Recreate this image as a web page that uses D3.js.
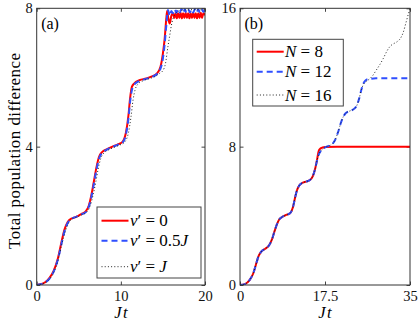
<!DOCTYPE html>
<html>
<head>
<meta charset="utf-8">
<script src="https://cdn.jsdelivr.net/npm/d3@7"></script>
<style>
  body { margin: 0; background: #fff; }
</style>
</head>
<body>
<div id="chart"></div>
<script>
'use strict';

// panel (a): v' series, time Jt
var tA_v0 = [0, 0.5, 1, 1.5, 2, 2.5, 3, 3.3, 3.7, 4.2, 4.7, 5.3, 5.8, 6.2, 6.5, 6.8, 7.1, 7.4, 7.8, 8.3, 9, 9.6, 10.2, 10.6, 10.9, 11.1, 11.3, 11.6, 12.2, 13, 13.7, 14.3, 14.7, 15.0, 15.2, 15.4, 15.5, 15.65, 15.8, 16.0, 16.2,
  16.35, 16.5, 16.65, 16.8, 16.95, 17.1, 17.25, 17.4, 17.55, 17.7, 17.85, 18.0, 18.15, 18.3, 18.45, 18.6, 18.75, 18.9, 19.05, 19.2, 19.35, 19.5, 19.65, 19.8, 20];
var yA_v0 = [0, 0.02, 0.08, 0.2, 0.4, 0.75, 1.3, 1.6, 1.83, 1.93, 1.97, 2.05, 2.12, 2.3, 2.6, 3.0, 3.4, 3.7, 3.85, 3.92, 4.0, 4.06, 4.14, 4.4, 4.9, 5.4, 5.72, 5.83, 5.92, 5.97, 6.03, 6.12, 6.3, 6.7, 7.1, 7.7, 7.92, 7.7, 7.56, 7.78, 7.86,
  7.72, 7.86, 7.71, 7.86, 7.72, 7.87, 7.71, 7.86, 7.72, 7.87, 7.72, 7.86, 7.71, 7.86, 7.72, 7.87, 7.72, 7.86, 7.71, 7.86, 7.72, 7.87, 7.72, 7.86, 7.8];

var tA_v05 = [0, 0.5, 1, 1.5, 2, 2.5, 3, 3.3, 3.7, 4.2, 4.7, 5.3, 5.8, 6.2, 6.5, 6.8, 7.1, 7.4, 7.8, 8.3, 9, 9.6, 10.2, 10.6, 10.9, 11.1, 11.3, 11.6, 12.2, 13, 13.7, 14.3, 14.7, 15.0, 15.2, 15.4, 15.6, 15.8, 16.0,
  16.2, 16.4, 16.6, 16.8, 17.0, 17.2, 17.4, 17.6, 17.8, 18.0, 18.2, 18.4, 18.6, 18.8, 19.0, 19.2, 19.4, 19.6, 19.8, 20];
var yA_v05 = [0, 0.02, 0.07, 0.18, 0.38, 0.72, 1.25, 1.55, 1.8, 1.92, 1.97, 2.04, 2.1, 2.27, 2.55, 2.93, 3.33, 3.65, 3.83, 3.91, 3.99, 4.05, 4.12, 4.35, 4.8, 5.3, 5.62, 5.8, 5.9, 5.96, 6.02, 6.1, 6.25, 6.55, 6.95, 7.5, 7.95, 7.78, 7.92,
  7.86, 7.97, 7.87, 7.97, 7.88, 7.98, 7.87, 7.97, 7.88, 7.98, 7.88, 7.97, 7.88, 7.98, 7.88, 7.97, 7.88, 7.98, 7.9, 7.95];

var tA_v1 = [0, 0.5, 1, 1.5, 2, 2.5, 3, 3.4, 3.8, 4.3, 4.8, 5.4, 5.9, 6.3, 6.7, 7.0, 7.3, 7.6, 8.0, 8.5, 9.2, 9.8, 10.4, 10.9, 11.2, 11.45, 11.7, 12.0, 12.6, 13.3, 14.0, 14.6, 15.0, 15.3, 15.6, 15.8, 16.0, 16.2, 16.5, 16.9, 17.5, 18.5, 20];
var yA_v1 = [0, 0.02, 0.06, 0.16, 0.35, 0.68, 1.2, 1.55, 1.8, 1.92, 1.97, 2.03, 2.1, 2.25, 2.6, 2.95, 3.35, 3.65, 3.82, 3.9, 3.98, 4.04, 4.12, 4.4, 4.85, 5.35, 5.65, 5.8, 5.9, 5.96, 6.02, 6.12, 6.2, 6.4, 6.9, 7.2, 7.5, 7.7, 7.85, 7.92, 7.95, 7.96, 7.96];

// panel (b): N series
var tB_8 = [0, 1, 2, 2.7, 3.3, 3.8, 4.3, 5.2, 6.0, 6.6, 7.1, 7.6, 8.1, 8.6, 9.5, 10.3, 10.9, 11.3, 11.7, 12.2, 12.7, 13.6, 14.4, 15.0, 15.5, 15.9, 16.2, 16.5, 17, 17.5, 20, 25, 30, 35];
var yB_8 = [0, 0.05, 0.3, 0.65, 1.2, 1.65, 1.9, 2.1, 2.3, 2.65, 3.1, 3.5, 3.8, 3.92, 4.05, 4.15, 4.5, 5.0, 5.45, 5.75, 5.88, 5.98, 6.07, 6.3, 6.75, 7.3, 7.75, 7.88, 7.95, 7.98, 8, 8, 8, 8];

var tB_12 = [0, 1, 2, 2.7, 3.3, 3.8, 4.3, 5.2, 6.0, 6.6, 7.1, 7.6, 8.1, 8.6, 9.5, 10.3, 10.9, 11.3, 11.7, 12.2, 12.7, 13.6, 14.4, 15.0, 15.5, 15.9, 16.3, 16.8, 17.5, 18.3, 19.0, 19.6, 20.2, 20.8, 21.3, 21.8, 22.5, 23.3, 24.0, 24.5, 25.0, 25.4, 25.8, 26.3, 27, 28, 30, 35];
var yB_12 = [0, 0.05, 0.3, 0.65, 1.2, 1.65, 1.9, 2.1, 2.3, 2.65, 3.1, 3.5, 3.8, 3.92, 4.05, 4.15, 4.5, 5.0, 5.45, 5.75, 5.88, 5.98, 6.07, 6.3, 6.75, 7.25, 7.6, 7.8, 7.95, 8.05, 8.15, 8.4, 8.85, 9.4, 9.75, 9.95, 10.05, 10.15, 10.35, 10.75, 11.3, 11.65, 11.82, 11.9, 11.93, 11.95, 11.95, 11.95];

var tB_16 = [0, 1, 2, 2.7, 3.3, 3.8, 4.3, 5.2, 6.0, 6.6, 7.1, 7.6, 8.1, 8.6, 9.5, 10.3, 10.9, 11.3, 11.7, 12.2, 12.7, 13.6, 14.4, 15.0, 15.5, 15.9, 16.3, 16.8, 17.5, 18.3, 19.0, 19.6, 20.2, 20.8, 21.3, 21.8, 22.5, 23.3, 24.0, 24.5, 25.0, 25.4, 25.9, 26.6, 27.3, 28.0, 28.8, 29.5, 30.2, 30.9, 31.6, 32.3, 33.0, 33.6, 34.2, 34.7, 35];
var yB_16 = [0, 0.05, 0.3, 0.65, 1.2, 1.65, 1.9, 2.1, 2.3, 2.65, 3.1, 3.5, 3.8, 3.92, 4.05, 4.15, 4.5, 5.0, 5.45, 5.75, 5.88, 5.98, 6.07, 6.3, 6.75, 7.25, 7.6, 7.8, 7.95, 8.05, 8.15, 8.4, 8.85, 9.4, 9.75, 9.95, 10.05, 10.15, 10.35, 10.75, 11.3, 11.6, 11.75, 11.9, 12.1, 12.4, 12.75, 13.1, 13.5, 13.8, 13.95, 14.06, 14.25, 14.6, 15.2, 15.7, 15.95];

// ticks
var xTicksA = [0, 10, 20], yTicksA = [0, 4, 8];
var xTicksB = [0, 17.5, 35], yTicksB = [0, 8, 16];

var W = 420, H = 327;
var FONT = "'Liberation Serif'";
var svg = d3.select('#chart').append('svg').attr('width', W).attr('height', H)
	.style('display', 'block');

var xa = d3.scaleLinear().domain([0, 20]).range([36.7, 205]);
var ya = d3.scaleLinear().domain([0, 8]).range([285, 8.3]);
var xb = d3.scaleLinear().domain([0, 35]).range([240, 410]);
var yb = d3.scaleLinear().domain([0, 16]).range([285, 8.3]);

var styles = [
  { stroke: '#ff0000', width: 2, dash: null },
  { stroke: '#2f4fff', width: 2, dash: '6,4' },
  { stroke: '#222', width: 1, dash: '1,2.2' }
];

function zip(t, y) { return t.map(function(d, i) { return [d, y[i]]; }); }

function panel(id, x, y, xt, yt, series, label, fmtX) {
	var g = svg.append('g');
	var x0 = x.range()[0], x1 = x.range()[1], y0 = y.range()[0], y1 = y.range()[1];

	svg.append('clipPath').attr('id', 'clip' + id)
		.append('rect').attr('x', x0).attr('y', y1).attr('width', x1 - x0).attr('height', y0 - y1);

	// ticks inside on all four sides
	g.append('g').attr('transform', 'translate(0,' + y0 + ')')
		.call(d3.axisBottom(x).tickValues(xt).tickSize(-3.5).tickPadding(6).tickFormat(fmtX));
	g.append('g').attr('transform', 'translate(0,' + y1 + ')')
		.call(d3.axisTop(x).tickValues(xt).tickSize(-3.5).tickFormat(''));
	g.append('g').attr('transform', 'translate(' + x0 + ',0)')
		.call(d3.axisLeft(y).tickValues(yt).tickSize(-3.5).tickPadding(4));
	g.append('g').attr('transform', 'translate(' + x1 + ',0)')
		.call(d3.axisRight(y).tickValues(yt).tickSize(-3.5).tickFormat(''));
	g.selectAll('.domain').remove();
	g.selectAll('.tick line').attr('stroke', '#444');
	g.selectAll('.tick text').attr('font-size', 14.5).attr('fill', '#111')
		.style('font-family', FONT);

	var line = d3.line().x(function(d) { return x(d[0]); }).y(function(d) { return y(d[1]); })
		.curve(d3.curveMonotoneX);

	var lg = g.append('g').attr('clip-path', 'url(#clip' + id + ')');
	series.forEach(function(s, i) {
		lg.append('path').datum(zip(s.t, s.y))
			.attr('fill', 'none')
			.attr('stroke', styles[i].stroke)
			.attr('stroke-width', styles[i].width)
			.attr('stroke-dasharray', styles[i].dash)
			.attr('d', line);
	});

	g.append('rect').attr('x', x0).attr('y', y1).attr('width', x1 - x0).attr('height', y0 - y1)
		.attr('fill', 'none').attr('stroke', '#333').attr('stroke-width', 1);

	g.append('text').attr('x', x0 + 4.5).attr('y', y1 + 21).attr('font-size', 16)
		.style('font-family', FONT).text(label);

	var jt = g.append('text').attr('x', (x0 + x1) / 2).attr('y', 317.5).attr('text-anchor', 'middle')
		.attr('font-size', 16.5).attr('font-style', 'italic').style('font-family', FONT);
	jt.append('tspan').text('J');
	jt.append('tspan').attr('dx', 1.5).text('t');
	return g;
}

var ga = panel('a', xa, ya, xTicksA, yTicksA, [
	{ t: tA_v0, y: yA_v0 }, { t: tA_v05, y: yA_v05 }, { t: tA_v1, y: yA_v1 }
], '(a)', d3.format('d'));

var gb = panel('b', xb, yb, xTicksB, yTicksB, [
	{ t: tB_8, y: yB_8 }, { t: tB_12, y: yB_12 }, { t: tB_16, y: yB_16 }
], '(b)', function(d) { return d === 17.5 ? '17.5' : d3.format('d')(d); });

// y label
svg.append('text')
	.attr('transform', 'translate(20,151) rotate(-90)')
	.attr('text-anchor', 'middle').attr('font-size', 17)
	.attr('textLength', 196).attr('lengthAdjust', 'spacing')
	.style('font-family', FONT)
	.text('Total population difference');

// legends
function legend(g, bx, by, bw, bh, rows, lx, tx) {
	g.append('rect').attr('x', bx).attr('y', by).attr('width', bw).attr('height', bh)
		.attr('fill', '#fff').attr('stroke', '#444').attr('stroke-width', 1);
	rows.forEach(function(r, i) {
		g.append('line').attr('x1', lx).attr('x2', lx + 27).attr('y1', r.y).attr('y2', r.y)
			.attr('stroke', styles[i].stroke).attr('stroke-width', styles[i].width)
			.attr('stroke-dasharray', styles[i].dash);
		var t = g.append('text').attr('x', tx).attr('y', r.y + 5.5).attr('font-size', 17)
			.style('font-family', FONT);
		r.parts.forEach(function(p) {
			t.append('tspan').attr('font-style', p[1] ? 'italic' : 'normal').text(p[0]);
		});
	});
}

legend(ga, 97, 207, 104, 71, [
	{ y: 220.7, parts: [['v', 1], ['\u2032 = 0', 0]] },
	{ y: 240.7, parts: [['v', 1], ['\u2032 = 0.5', 0], ['J', 1]] },
	{ y: 266.7, parts: [['v', 1], ['\u2032 = ', 0], ['J', 1]] }
], 101.5, 130);

legend(gb, 252.7, 39.3, 90.6, 66.7, [
	{ y: 51.7, parts: [['N', 1], [' = 8', 0]] },
	{ y: 71.7, parts: [['N', 1], [' = 12', 0]] },
	{ y: 95, parts: [['N', 1], [' = 16', 0]] }
], 256.7, 285);
</script>
</body>
</html>
